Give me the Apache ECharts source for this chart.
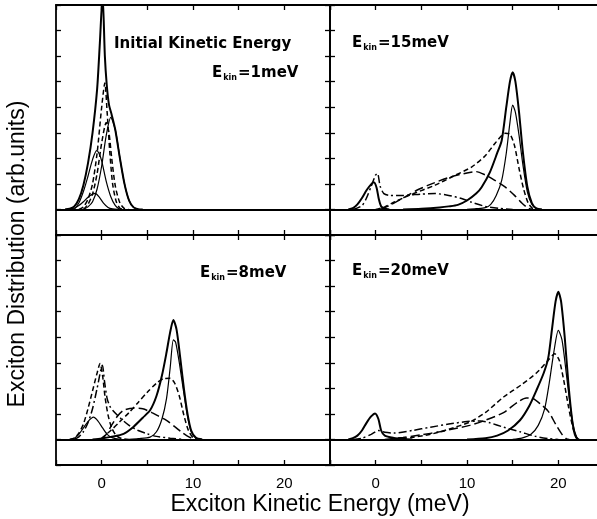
<!DOCTYPE html>
<html>
<head>
<meta charset="utf-8">
<script src="https://cdn.jsdelivr.net/npm/echarts@6/dist/echarts.min.js"></script>
<style>
  html, body { margin: 0; padding: 0; background: #fff; }
  #chart { width: 597px; height: 519px; }
</style>
</head>
<body>
<div id="chart"></div>
<script>
// tick labels on the energy axis
const xTickLabels = [0, 10, 20];

// panel E_kin = 1 meV  [energy meV, distribution]
const p1Total = [[-4, 0], [-3.5, 0.03], [-3, 0.12], [-2.5, 0.4], [-2, 0.95], [-1.5, 1.8], [-1, 3.0], [-0.5, 4.7], [-0.2, 6.5], [0.1, 8.4], [0.35, 6.0], [0.55, 4.9], [0.8, 4.1], [1.1, 3.7], [1.5, 3.1], [2, 2.0], [2.5, 1.0], [3, 0.35], [3.5, 0.08], [4, 0.01], [4.5, 0]];
const p1Solid = [[-2, 0], [-1.5, 0.1], [-1, 0.3], [-0.5, 0.8], [0, 1.7], [0.5, 2.9], [1, 3.6], [1.5, 3.1], [2, 2.0], [2.5, 1.0], [3, 0.35], [3.5, 0.08], [4, 0]];
const p1Low = [[-4, 0], [-3, 0.05], [-2.5, 0.15], [-2, 0.3], [-1.5, 0.48], [-1, 0.6], [-0.7, 0.63], [-0.3, 0.5], [0.2, 0.25], [0.7, 0.08], [1.2, 0.02], [1.8, 0]];
const p1Mid = [[-3, 0], [-2.5, 0.25], [-2, 0.7], [-1.5, 1.3], [-1, 1.95], [-0.55, 2.3], [-0.3, 2.2], [0, 1.9], [0.5, 1.1], [1, 0.5], [1.5, 0.15], [2, 0]];
const p1Dash = [[-2.5, 0], [-2, 0.1], [-1.5, 0.4], [-1, 1.0], [-0.5, 2.2], [0, 4.0], [0.35, 4.95], [0.6, 3.8], [0.9, 2.2], [1.2, 1.0], [1.6, 0.3], [2, 0.05], [2.4, 0]];
const p1Dash2 = [[-2, 0], [-1.5, 0.2], [-1, 0.6], [-0.5, 1.4], [0, 2.6], [0.5, 3.4], [0.8, 3.0], [1.1, 2.0], [1.5, 0.9], [2, 0.25], [2.5, 0.03], [3, 0]];

// panel E_kin = 15 meV
const p15Low = [[-3, 0], [-2.5, 0.05], [-2, 0.2], [-1.5, 0.45], [-1, 0.75], [-0.5, 0.98], [-0.2, 1.06], [0.1, 0.85], [0.35, 0.4], [0.6, 0.12], [1, 0.03], [1.5, 0]];
const p15Total = [[3, 0], [5, 0.03], [7, 0.08], [8, 0.12], [9, 0.18], [10, 0.35], [11, 0.62], [11.6, 0.87], [12.5, 1.45], [13.3, 2.2], [13.8, 2.7], [14.3, 4.0], [14.7, 5.0], [15, 5.37], [15.3, 5.0], [15.7, 3.8], [16.1, 2.3], [16.6, 0.9], [17.1, 0.25], [17.6, 0.04], [18.2, 0]];
const p15Solid = [[10, 0], [11, 0.03], [12, 0.07], [12.6, 0.2], [13.2, 0.55], [13.8, 1.14], [14.3, 2.2], [14.7, 3.4], [15, 4.08], [15.3, 3.8], [15.7, 2.9], [16.1, 1.8], [16.6, 0.7], [17.1, 0.2], [17.6, 0.03], [18.2, 0]];
const p15DashDot = [[-2.5, 0], [-1.5, 0.15], [-1, 0.45], [-0.5, 0.9], [0, 1.35], [0.2, 1.41], [0.5, 0.9], [0.9, 0.62], [1.5, 0.55], [3, 0.55], [5, 0.6], [6.5, 0.62], [8, 0.55], [9.4, 0.43], [10.5, 0.28], [12, 0.12], [13.5, 0.04], [15, 0]];
const p15Dash = [[0, 0], [1, 0.1], [2.1, 0.3], [4, 0.6], [6.5, 0.95], [8.5, 1.3], [10.5, 1.66], [12, 2.1], [13.1, 2.6], [14.2, 2.98], [14.7, 2.95], [15.2, 2.5], [15.7, 1.6], [16.2, 0.8], [16.7, 0.25], [17.2, 0.03], [17.6, 0]];
const p15LongDash = [[0.5, 0], [1.5, 0.15], [3, 0.45], [4.5, 0.75], [5.7, 0.94], [8, 1.25], [10, 1.43], [11, 1.48], [12, 1.35], [13, 1.15], [14.2, 0.87], [15.2, 0.55], [16, 0.25], [16.7, 0.05], [17.2, 0]];

// panel E_kin = 8 meV
const p8Low = [[-3.5, 0], [-3, 0.05], [-2.5, 0.2], [-2, 0.45], [-1.5, 0.7], [-0.9, 0.87], [-0.4, 0.72], [0.1, 0.45], [0.6, 0.2], [1.2, 0.06], [2, 0]];
const p8Dash0 = [[-3.5, 0], [-3, 0.05], [-2.5, 0.25], [-2, 0.6], [-1.5, 1.2], [-1, 1.9], [-0.5, 2.6], [-0.18, 2.97], [0.1, 2.5], [0.37, 1.66], [0.7, 0.95], [1.1, 0.45], [1.6, 0.15], [2.2, 0.03], [3, 0]];
const p8DashDot = [[-3, 0], [-2.5, 0.1], [-2, 0.3], [-1.5, 0.65], [-1, 1.2], [-0.5, 2.0], [0.08, 2.9], [0.3, 2.3], [0.6, 1.6], [0.9, 1.3], [1.2, 1.14], [2, 0.85], [3, 0.55], [4, 0.35], [5, 0.22], [6, 0.12], [7.5, 0.05], [9, 0]];
const p8Total = [[-1, 0], [0, 0.04], [1, 0.1], [2.4, 0.22], [3.5, 0.5], [4.5, 0.85], [5.3, 1.14], [6, 1.7], [6.6, 2.5], [7.1, 3.4], [7.5, 4.2], [7.85, 4.67], [8.2, 4.3], [8.6, 3.2], [9, 2.0], [9.4, 1.0], [9.8, 0.35], [10.3, 0.08], [11, 0]];
const p8Solid = [[3, 0], [4, 0.03], [5.3, 0.09], [6, 0.3], [6.6, 0.8], [7.1, 1.6], [7.5, 2.8], [7.85, 3.9], [8.1, 3.8], [8.5, 3.0], [9, 1.8], [9.4, 0.9], [9.8, 0.3], [10.3, 0.06], [11, 0]];
const p8Dash = [[0, 0.05], [1, 0.35], [2, 0.7], [3, 1.05], [4, 1.45], [5, 1.85], [6, 2.2], [6.8, 2.38], [7.5, 2.39], [8, 2.2], [8.5, 1.7], [9, 0.95], [9.5, 0.35], [10, 0.07], [10.5, 0]];
const p8LongDash = [[0, 0], [0.5, 0.2], [1, 0.5], [1.7, 0.9], [2.4, 1.14], [3.5, 1.22], [4.5, 1.2], [5.5, 1.05], [6.3, 0.9], [7.1, 0.75], [8, 0.5], [8.7, 0.3], [9.3, 0.15], [10, 0.03], [10.5, 0]];

// panel E_kin = 20 meV
const p20Low = [[-3, 0], [-2.5, 0.05], [-2, 0.15], [-1.5, 0.35], [-1, 0.65], [-0.5, 0.9], [-0.07, 1.02], [0.3, 0.8], [0.6, 0.35], [1, 0.15], [2, 0.06], [3, 0.02], [4, 0]];
const p20Total = [[10, 0], [12, 0.05], [13.3, 0.15], [14.5, 0.35], [15.8, 0.75], [16.8, 1.3], [17.6, 1.92], [18.4, 2.6], [18.9, 3.2], [19.3, 4.3], [19.7, 5.4], [20, 5.78], [20.3, 5.4], [20.7, 4.0], [21.1, 2.2], [21.5, 0.8], [21.8, 0.2], [22.1, 0]];
const p20Solid = [[15, 0], [16, 0.05], [17, 0.2], [17.8, 0.55], [18.5, 1.2], [19, 2.2], [19.5, 3.4], [20, 4.27], [20.4, 3.9], [20.8, 2.8], [21.2, 1.6], [21.6, 0.6], [22, 0.1], [22.3, 0]];
const p20Dash = [[2, 0], [4, 0.08], [6, 0.2], [8, 0.4], [10.3, 0.68], [12, 1.05], [14, 1.66], [16, 2.15], [17.6, 2.6], [18.9, 3.1], [19.6, 3.35], [20.1, 3.1], [20.6, 2.3], [21.1, 1.3], [21.6, 0.45], [22, 0.05], [22.3, 0]];
const p20LongDash = [[1, 0], [3, 0.08], [5, 0.18], [7, 0.3], [9, 0.45], [10.3, 0.55], [12, 0.75], [14, 1.05], [15.5, 1.45], [16.5, 1.62], [17.2, 1.6], [18, 1.4], [18.9, 1.1], [19.7, 0.6], [20.4, 0.2], [20.9, 0.02], [21.2, 0]];
const p20DashDot = [[-2.5, 0], [-1.5, 0.05], [-0.5, 0.2], [0.3, 0.35], [1, 0.28], [2, 0.25], [4, 0.35], [6, 0.48], [8, 0.6], [10, 0.7], [11.5, 0.72], [12.5, 0.65], [14, 0.48], [15.8, 0.3], [17.5, 0.12], [19, 0.03], [20, 0]];

// line styles
const styles = {
  total: { width: 2, type: 'solid' },
  solid: { width: 1.2, type: 'solid' },
  dash: { width: 1.5, type: [5, 3] },
  long: { width: 1.5, type: [9, 4] },
  dashdot: { width: 1.5, type: [8, 3, 2, 3] }
};

// panels: top-left, top-right, bottom-left, bottom-right
const panels = [
  { curves: [[p1Total, 'total'], [p1Solid, 'solid'], [p1Low, 'solid'], [p1Mid, 'solid'], [p1Dash, 'dash'], [p1Dash2, 'dash']] },
  { curves: [[p15Total, 'total'], [p15Solid, 'solid'], [p15Low, 'total'], [p15DashDot, 'dashdot'], [p15Dash, 'dash'], [p15LongDash, 'long']] },
  { curves: [[p8Total, 'total'], [p8Solid, 'solid'], [p8Low, 'solid'], [p8Dash0, 'dash'], [p8DashDot, 'dashdot'], [p8Dash, 'dash'], [p8LongDash, 'long']] },
  { curves: [[p20Total, 'total'], [p20Solid, 'solid'], [p20Low, 'total'], [p20Dash, 'dash'], [p20LongDash, 'long'], [p20DashDot, 'dashdot']] }
];

const gridPos = [
  { left: 56, top: 5 },
  { left: 330, top: 5 },
  { left: 56, top: 235 },
  { left: 330, top: 235 }
];

const chart = echarts.init(document.getElementById('chart'));
const font = '"Liberation Sans", Arial, sans-serif';
const boldFont = '"DejaVu Sans", sans-serif';
const frame = { onZero: false, lineStyle: { color: '#000', width: 1.8 } };

const grid = [], xAxis = [], yAxis = [], series = [];
gridPos.forEach((p, g) => {
  grid.push({ left: p.left, top: p.top, width: 274, height: 230, outerBoundsMode: 'none' });
  ['bottom', 'top'].forEach(pos => {
    xAxis.push({
      type: 'value', gridIndex: g, position: pos, min: -5, max: 25, interval: 5,
      axisLine: frame,
      axisTick: { inside: true, length: 5, lineStyle: { color: '#000', width: 1.3 } },
      axisLabel: {
        show: pos === 'bottom' && g >= 2, margin: 11,
        fontSize: 15, fontFamily: font, color: '#000',
        formatter: v => (xTickLabels.includes(v) ? String(v) : '')
      },
      splitLine: { show: false }
    });
  });
  ['left', 'right'].forEach(pos => {
    yAxis.push({
      type: 'value', gridIndex: g, position: pos, min: -1, max: 8, interval: 1,
      axisLine: frame,
      axisTick: { inside: true, length: 5, lineStyle: { color: '#000', width: 1.3 } },
      axisLabel: { show: false },
      splitLine: { show: false }
    });
  });
  panels[g].curves.forEach(([data, kind], i) => {
    const s = {
      type: 'line', xAxisIndex: g * 2, yAxisIndex: g * 2, data,
      smooth: 0.25, symbol: 'none', silent: true,
      lineStyle: { color: '#000', width: styles[kind].width, type: styles[kind].type }
    };
    if (i === 0) {
      // zero line across the panel
      s.markLine = {
        silent: true, symbol: 'none', label: { show: false },
        lineStyle: { color: '#000', type: 'solid', width: 2 },
        data: [{ yAxis: 0 }]
      };
    }
    series.push(s);
  });
});

const rich = {
  e: { fontSize: 15, fontWeight: 'bold', fontFamily: boldFont, color: '#000' },
  s: { fontSize: 8, fontWeight: 'bold', fontFamily: boldFont, color: '#000', padding: [9, 1, 0, 1] }
};
const label = (txt, left, top) => ({
  text: '{e|E}{s|kin}{e|=' + txt + '}', left, top,
  textStyle: { rich }, padding: 0
});

const option = {
  animation: false,
  backgroundColor: '#fff',
  title: [
    { text: 'Initial Kinetic Energy', left: 114, top: 37, padding: 0,
      textStyle: { fontSize: 15, fontWeight: 'bold', fontFamily: boldFont, color: '#000' } },
    label('1meV', 212, 65),
    label('15meV', 352, 35),
    label('8meV', 200, 265),
    label('20meV', 352, 263)
  ],
  grid, xAxis, yAxis, series,
  graphic: [
    { type: 'text', x: 320, y: 505,
      style: { text: 'Exciton Kinetic Energy (meV)', font: '23px ' + font, fill: '#000',
               textAlign: 'center', textVerticalAlign: 'middle' } },
    { type: 'text', x: 18, y: 254, rotation: Math.PI / 2,
      style: { text: 'Exciton Distribution (arb.units)', font: '23px ' + font, fill: '#000',
               textAlign: 'center', textVerticalAlign: 'middle' } }
  ]
};

chart.setOption(option);
</script>
</body>
</html>
